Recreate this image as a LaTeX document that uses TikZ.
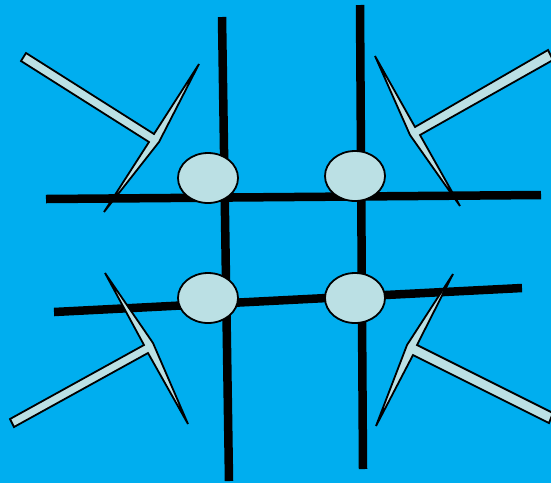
\documentclass[tikz,border=0pt]{standalone}
\usepackage{tikz}
\usetikzlibrary{shapes.geometric}

\definecolor{sky}{RGB}{0,174,239}
\definecolor{pale}{RGB}{187,224,228}

\begin{document}
\begin{tikzpicture}[
    x=1pt, y=-1pt,
    rod/.style={line width=8.5pt, black},
    disc/.style={ellipse, draw, line width=1.8pt, fill=pale,
      minimum width=60pt, minimum height=50pt, inner sep=0pt},
    hand/.style={draw, line width=1.8pt, fill=pale, line join=miter}
  ]
    \useasboundingbox[fill=sky] (0,0) rectangle (551,483);

    % grid rods
    \coordinate (v1a) at (222,17);  \coordinate (v1b) at (229,481);
    \coordinate (v2a) at (360,5);   \coordinate (v2b) at (363,469);
    \coordinate (h1a) at (46,199);  \coordinate (h1b) at (541,195);
    \coordinate (h2a) at (54,312);  \coordinate (h2b) at (522,288);
    \draw[rod] (v1a) -- (v1b);
    \draw[rod] (v2a) -- (v2b);
    \draw[rod] (h1a) -- (h1b);
    \draw[rod] (h2a) -- (h2b);

    % discs at the crossings
    \node[disc] (tl) at (208,178) {};
    \node[disc] (tr) at (355,176) {};
    \node[disc] (bl) at (208,298) {};
    \node[disc] (br) at (355,298) {};

    % corner pointers
    \draw[hand] (26,53) -- (154,134) -- (199,64) -- (159,142)
      -- (104,212) -- (149,142) -- (21,61) -- cycle;
    \draw[hand] (375,56) -- (415,127) -- (548,50) -- (553,60)
      -- (420,135) -- (460,206) -- (410,135) -- cycle;
    \draw[hand] (105,273) -- (153,343) -- (188,424) -- (148,353)
      -- (14,427) -- (10,419) -- (144,345) -- cycle;
    \draw[hand] (453,274) -- (417,345) -- (553,413) -- (549,423)
      -- (413,355) -- (376,426) -- (407,345) -- cycle;
\end{tikzpicture}
\end{document}
